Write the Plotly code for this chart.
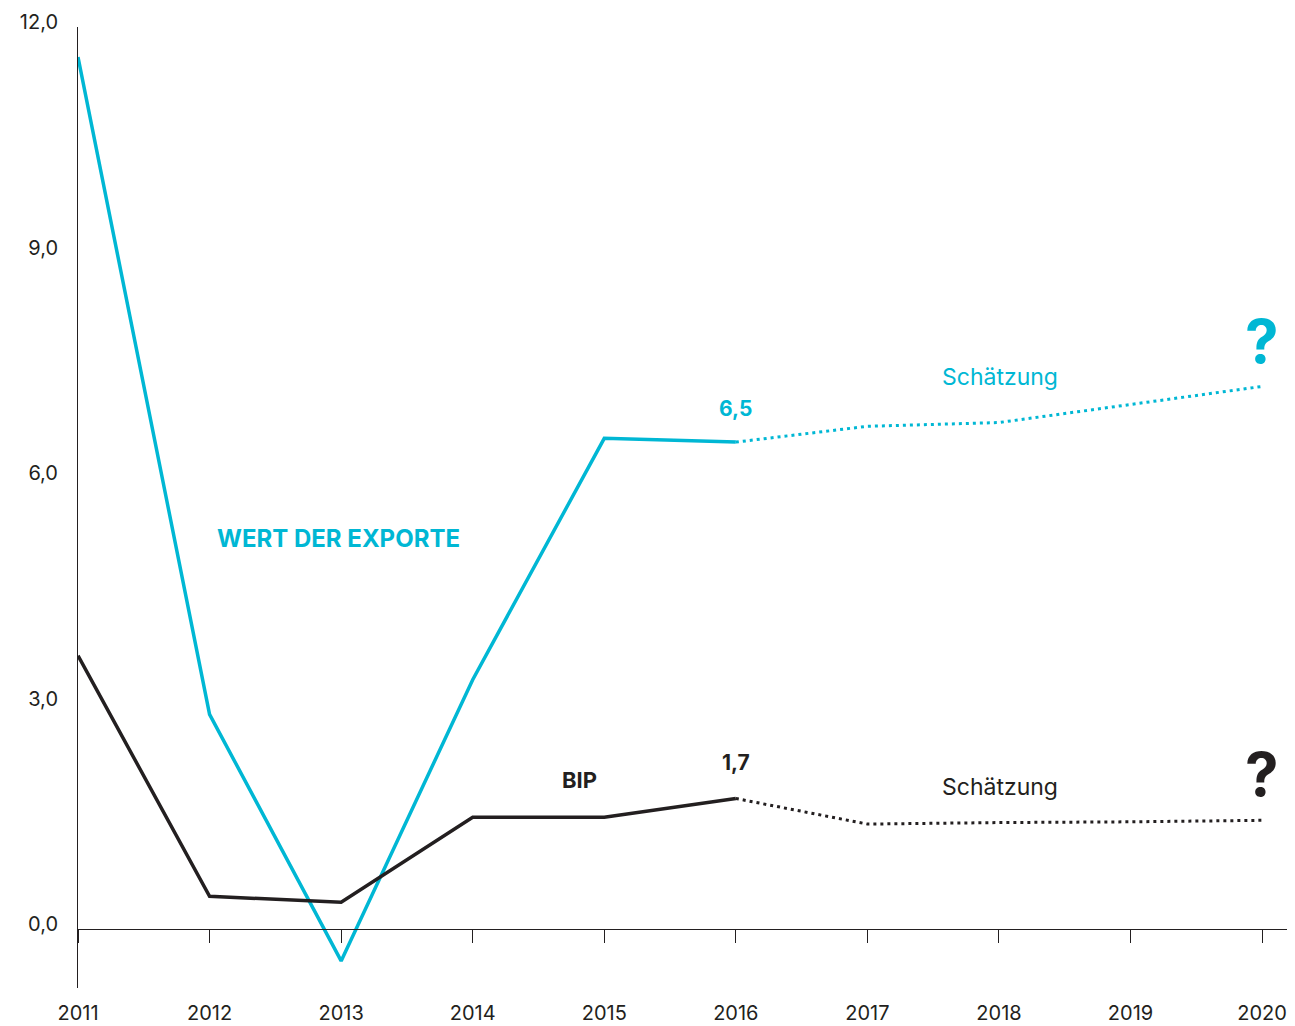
import plotly.graph_objects as go

years = [2011, 2012, 2013, 2014, 2015, 2016, 2017, 2018, 2019, 2020]
year_labels = [str(y) for y in years]

exports_actual_years = [2011, 2012, 2013, 2014, 2015, 2016]
exports_actual = [11.6, 2.86, -0.42, 3.32, 6.53, 6.48]
exports_est_years = [2016, 2017, 2018, 2019, 2020]
exports_est = [6.48, 6.69, 6.74, 6.98, 7.22]

bip_actual_years = [2011, 2012, 2013, 2014, 2015, 2016]
bip_actual = [3.64, 0.44, 0.36, 1.49, 1.49, 1.74]
bip_est_years = [2016, 2017, 2018, 2019, 2020]
bip_est = [1.74, 1.40, 1.42, 1.43, 1.45]

y_ticks = [0, 3, 6, 9, 12]
y_tick_labels = ["0,0", "3,0", "6,0", "9,0", "12,0"]

CYAN = "#00b7d4"
BLACK = "#231f20"
FONT = "Inter"

y_range = [-0.78, 12.0]

fig = go.Figure()
fig.add_trace(go.Scatter(x=exports_actual_years, y=exports_actual, mode="lines",
                         line=dict(color=CYAN, width=3.5), xaxis="x2"))
fig.add_trace(go.Scatter(x=exports_est_years, y=exports_est, mode="lines",
                         line=dict(color=CYAN, width=3, dash="3px,4px"), xaxis="x"))
fig.add_trace(go.Scatter(x=bip_actual_years, y=bip_actual, mode="lines",
                         line=dict(color=BLACK, width=3.5), xaxis="x2"))
fig.add_trace(go.Scatter(x=bip_est_years, y=bip_est, mode="lines",
                         line=dict(color=BLACK, width=3, dash="3px,4px"), xaxis="x"))

zero_pos = (0 - y_range[0]) / (y_range[1] - y_range[0])

annotations = [
    dict(x=2012.98, y=5.2, text="<b>WERT DER EXPORTE</b>", font=dict(color=CYAN, size=24)),
    dict(x=2014.81, y=1.98, text="<b>BIP</b>", font=dict(color=BLACK, size=22)),
    dict(x=2016, y=6.93, text="<b>6,5</b>", font=dict(color=CYAN, size=21)),
    dict(x=2016, y=2.22, text="<b>1,7</b>", font=dict(color=BLACK, size=21)),
    dict(x=2018.01, y=7.35, text="Schätzung", font=dict(color=CYAN, size=23)),
    dict(x=2018.01, y=1.89, text="Schätzung", font=dict(color=BLACK, size=23)),
    dict(x=2020, y=7.83, text="<b>?</b>", font=dict(color=CYAN, size=60)),
    dict(x=2020, y=2.07, text="<b>?</b>", font=dict(color=BLACK, size=60)),
]
for a in annotations:
    a.update(xref="x", yref="y", showarrow=False, xanchor="center", yanchor="middle")
    a["font"]["family"] = FONT

# the page body has an 8px margin, so the figure is 8px smaller and margins are compensated
fig.update_layout(
    width=1287, height=1018,
    margin=dict(l=70, r=0, t=19, b=38),
    paper_bgcolor="white", plot_bgcolor="white",
    showlegend=False,
    font=dict(family=FONT, color=BLACK, size=20),
    xaxis=dict(range=[2011, 2020.25], tickvals=years, ticktext=year_labels,
               showline=False, ticks="", showgrid=False, zeroline=False, automargin=False,
               tickfont=dict(size=20, color=BLACK), ticklabelstandoff=11),
    xaxis2=dict(range=[2011, 2020.25], matches="x", overlaying="x", anchor="free",
                position=zero_pos, tickvals=years, showticklabels=False, automargin=False,
                ticks="outside", ticklen=13, tickwidth=1, tickcolor=BLACK,
                showline=True, linecolor=BLACK, linewidth=1, showgrid=False, zeroline=False),
    yaxis=dict(range=y_range, tickvals=y_ticks, ticktext=y_tick_labels, automargin=False,
               showline=True, linecolor=BLACK, linewidth=1, ticks="", showgrid=False,
               zeroline=False, tickfont=dict(size=20, color=BLACK),
               ticklabelstandoff=15, ticklabelshift=-5),
    annotations=annotations,
)

fig.write_html("out.html")
